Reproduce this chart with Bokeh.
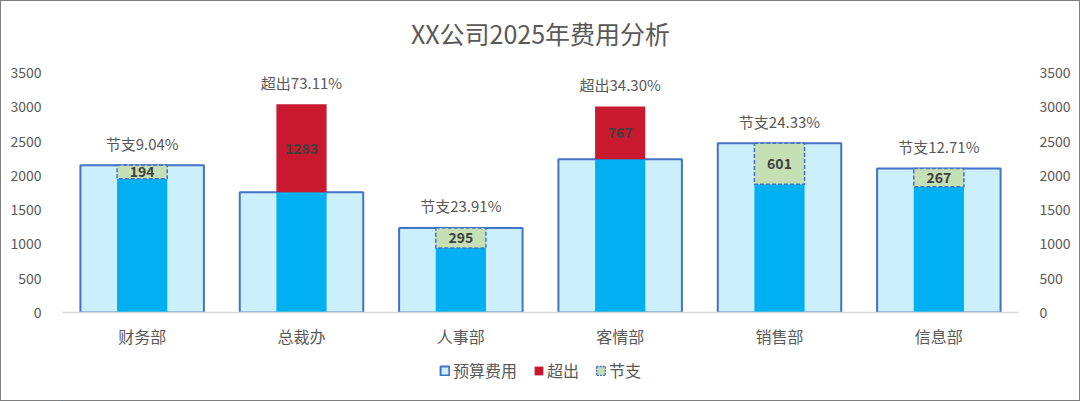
from bokeh.plotting import figure
from bokeh.layouts import column
from bokeh.models import (ColumnDataSource, Range1d, LinearAxis, FixedTicker,
                          Legend, LegendItem, Label)
from bokeh.core.properties import value
from bokeh.embed import file_html
from bokeh.resources import INLINE

# ---- data ----
departments = ["财务部", "总裁办", "人事部", "客情部", "销售部", "信息部"]
budget = [2146, 1755, 1234, 2236, 2470, 2101]
actual = [1952, 3038, 939, 3003, 1869, 1834]
y_ticks = [0, 500, 1000, 1500, 2000, 2500, 3000, 3500]
title_text = "XX公司2025年费用分析"
series_names = ["预算费用", "超出", "节支"]

FONT = "Noto Sans CJK SC"
GRAY = "#595959"
C_BUDGET_FILL, C_BUDGET_LINE = "#CCEFFC", "#4472C4"
C_ACTUAL = "#00B0F0"
C_OVER = "#C8192E"
C_SAVE = "#C5E0B4"

# ---- derived ----
base = [min(a, b) for a, b in zip(actual, budget)]
top = [max(a, b) for a, b in zip(actual, budget)]
diff = [abs(a - b) for a, b in zip(actual, budget)]
mid = [(a + b) / 2 for a, b in zip(actual, budget)]
pct_text = [("超出" if a > b else "节支") + "{:.2f}%".format(abs(a - b) / b * 100)
            for a, b in zip(actual, budget)]
over_idx = [i for i, (a, b) in enumerate(zip(actual, budget)) if a > b]
save_idx = [i for i, (a, b) in enumerate(zip(actual, budget)) if a <= b]

src_all = ColumnDataSource(dict(dep=departments, budget=budget, base=base, top=top,
                                diff=[str(d) for d in diff], mid=mid, pct=pct_text,
                                pct_y=[t + 320 for t in top]))
src_over = ColumnDataSource(dict(dep=[departments[i] for i in over_idx],
                                 bottom=[budget[i] for i in over_idx],
                                 top=[actual[i] for i in over_idx]))
src_save = ColumnDataSource(dict(dep=[departments[i] for i in save_idx],
                                 bottom=[actual[i] for i in save_idx],
                                 top=[budget[i] for i in save_idx]))

def plain(fig):
    fig.outline_line_color = None
    fig.border_fill_color = None
    fig.background_fill_color = None
    fig.xgrid.visible = False
    fig.ygrid.visible = False

# ---- title strip ----
tt = figure(width=1080, height=58, output_backend="svg", toolbar_location=None,
            x_axis_location=None, y_axis_location=None, min_border=0,
            x_range=Range1d(0, 1), y_range=Range1d(0, 58))
plain(tt)
tt.add_layout(Label(x=0.5, y=26, text=title_text, text_align="center",
                    text_baseline="middle", text_font=FONT,
                    text_font_size="25px", text_color=GRAY))

# ---- main chart ----
p = figure(x_range=departments, y_range=Range1d(y_ticks[0], y_ticks[-1]),
           width=1080, height=292, output_backend="svg", toolbar_location=None,
           min_border_left=62, min_border_right=62, min_border_top=14,
           min_border_bottom=38)
plain(p)

bar_w, inner_w = 0.775, 0.315
p.vbar(x="dep", top="budget", bottom=0, width=bar_w, source=src_all,
       fill_color=C_BUDGET_FILL, line_color=C_BUDGET_LINE, line_width=2)
p.vbar(x="dep", top="base", bottom=0, width=inner_w, source=src_all,
       fill_color=C_ACTUAL, line_color=None)
p.vbar(x="dep", top="top", bottom="bottom", width=inner_w, source=src_over,
       fill_color=C_OVER, line_color=None)
p.vbar(x="dep", top="top", bottom="bottom", width=inner_w, source=src_save,
       fill_color=C_SAVE, line_color=C_BUDGET_LINE, line_width=1.5,
       line_dash="4 2")

p.text(x="dep", y="mid", text="diff", source=src_all, text_align="center",
       text_baseline="middle", text_font=value(FONT), text_font_size="14px",
       text_font_style="bold", text_color="#404040")
p.text(x="dep", y="pct_y", text="pct", source=src_all, text_align="center",
       text_baseline="middle", text_font=value(FONT), text_font_size="15px",
       text_color=GRAY)

def style_y(ax):
    ax.ticker = FixedTicker(ticks=y_ticks)
    ax.axis_line_color = None
    ax.major_tick_line_color = None
    ax.minor_tick_line_color = None
    ax.major_label_text_font = FONT
    ax.major_label_text_font_size = "14px"
    ax.major_label_text_color = GRAY
    ax.major_label_standoff = 15

style_y(p.yaxis[0])
right = LinearAxis()
style_y(right)
p.add_layout(right, "right")

xa = p.xaxis[0]
xa.axis_line_color = "#D9D9D9"
xa.axis_line_width = 1.5
xa.major_tick_line_color = None
xa.minor_tick_line_color = None
xa.major_label_text_font = FONT
xa.major_label_text_font_size = "16px"
xa.major_label_text_color = GRAY
xa.major_label_standoff = 5

# ---- legend strip ----
lg = figure(width=1080, height=51, output_backend="svg", toolbar_location=None,
            x_axis_location=None, y_axis_location=None, min_border=0,
            x_range=Range1d(0, 1), y_range=Range1d(0, 1))
plain(lg)
d_budget = lg.vbar(x=[-5], top=[-5], bottom=[-6], width=0.1,
                   fill_color=C_BUDGET_FILL, line_color=C_BUDGET_LINE, line_width=2)
d_over = lg.vbar(x=[-5], top=[-5], bottom=[-6], width=0.1,
                 fill_color=C_OVER, line_color=None)
d_save = lg.vbar(x=[-5], top=[-5], bottom=[-6], width=0.1, fill_color=C_SAVE,
                 line_color=C_BUDGET_LINE, line_width=1.5, line_dash="2 1")
legend = Legend(items=[LegendItem(label=series_names[0], renderers=[d_budget]),
                       LegendItem(label=series_names[1], renderers=[d_over]),
                       LegendItem(label=series_names[2], renderers=[d_save])],
                orientation="horizontal", location="top_center",
                label_text_font=FONT, label_text_font_size="16px",
                label_text_color=GRAY, glyph_width=11, glyph_height=11,
                spacing=16, label_standoff=3, border_line_color=None,
                background_fill_alpha=0, margin=8, padding=4)
lg.add_layout(legend)

layout = column(tt, p, lg)
layout.styles = {"outline": "1.5px solid #7F7F7F", "outline-offset": "-1.5px"}

open("out.html", "w").write(file_html(layout, INLINE))
